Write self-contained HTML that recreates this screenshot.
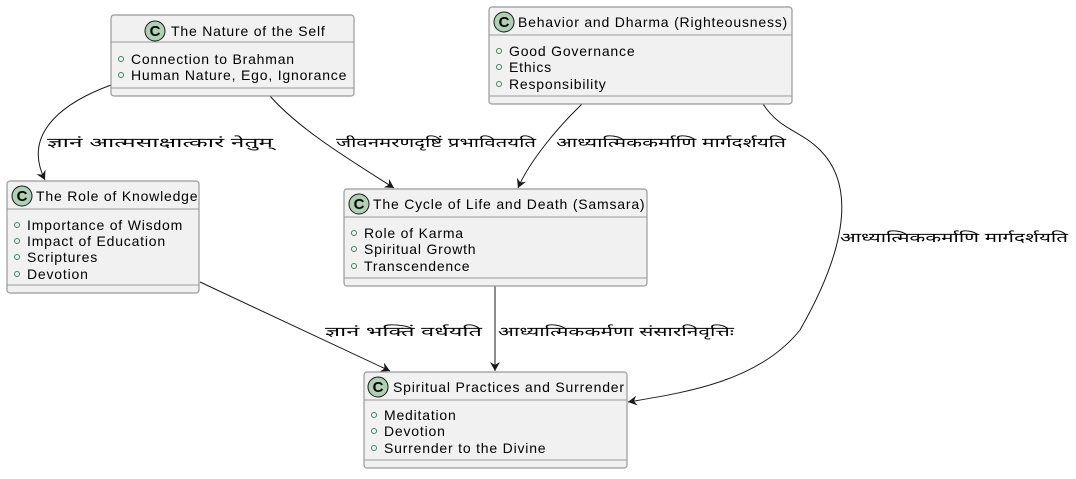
<!DOCTYPE html>
<html><head><meta charset="utf-8"><style>
body{margin:0;background:#fff;}
svg text{font-family:"Liberation Sans",sans-serif;font-size:14px;letter-spacing:0.8px;fill:#000;}
.b{fill:#f1f1f1;stroke:#999;stroke-width:1.2;}
.l{stroke:#999;stroke-width:1;}
.e{fill:none;stroke:#181818;stroke-width:1;}
.ci{fill:#add1b2;stroke:#181818;stroke-width:1;}
svg text.ct{font-weight:bold;font-size:15px;letter-spacing:0;}
.dot{fill:none;stroke:#38865a;stroke-width:1;}
svg text.lab{font-size:13px;letter-spacing:0;}
</style></head><body>
<svg width="1076" height="474" viewBox="0 0 1076 474" xmlns="http://www.w3.org/2000/svg">
<defs><marker id="a" markerWidth="10" markerHeight="10" refX="9" refY="5" orient="auto" markerUnits="userSpaceOnUse"><path d="M0,0 L9,5 L0,10 L3,5 Z" fill="#181818"/></marker></defs>

<path class="e" d="M111,85 C70,100 20,130 45,180" marker-end="url(#a)"/>
<path class="e" d="M270,96 C300,130 350,160 394,188" marker-end="url(#a)"/>
<path class="e" d="M582,104 C560,125 530,160 518,188" marker-end="url(#a)"/>
<path class="e" d="M763,104 C780,130 800,130 820,150 C860,190 840,260 800,330 C760,380 690,392 628,402" marker-end="url(#a)"/>
<path class="e" d="M200,282 L390,371" marker-end="url(#a)"/>
<path class="e" d="M495,286 L495,371" marker-end="url(#a)"/>

<text class="lab" x="47" y="147" textLength="226" lengthAdjust="spacingAndGlyphs">ज्ञानं  आत्मसाक्षात्कारं  नेतुम्</text>
<text class="lab" x="336" y="147" textLength="200" lengthAdjust="spacingAndGlyphs">जीवनमरणदृष्टिं प्रभावितयति</text>
<text class="lab" x="556" y="147" textLength="230" lengthAdjust="spacingAndGlyphs">आध्यात्मिककर्माणि  मार्गदर्शयति</text>
<text class="lab" x="840" y="242" textLength="228" lengthAdjust="spacingAndGlyphs">आध्यात्मिककर्माणि  मार्गदर्शयति</text>
<text class="lab" x="325" y="336" textLength="157" lengthAdjust="spacingAndGlyphs">ज्ञानं  भक्तिं  वर्धयति</text>
<text class="lab" x="498" y="336" textLength="236" lengthAdjust="spacingAndGlyphs">आध्यात्मिककर्मणा  संसारनिवृत्तिः</text>

<rect class="b" x="111" y="15" width="243" height="81" rx="3"/>
<line class="l" x1="111" y1="42" x2="354" y2="42"/><line class="l" x1="111" y1="88" x2="354" y2="88"/>
<circle class="ci" cx="155" cy="31" r="10"/><text class="ct" x="155" y="36" text-anchor="middle">C</text>
<text x="171" y="36">The Nature of the Self</text>
<circle class="dot" cx="121" cy="59" r="2.5"/><text x="131" y="64">Connection to Brahman</text>
<circle class="dot" cx="121" cy="75" r="2.5"/><text x="131" y="80">Human Nature, Ego, Ignorance</text>

<rect class="b" x="489" y="7" width="303" height="97" rx="3"/>
<line class="l" x1="489" y1="35" x2="792" y2="35"/><line class="l" x1="489" y1="96" x2="792" y2="96"/>
<circle class="ci" cx="504" cy="22" r="10"/><text class="ct" x="504" y="27" text-anchor="middle">C</text>
<text x="518" y="27">Behavior and Dharma (Righteousness)</text>
<circle class="dot" cx="499" cy="51" r="2.5"/><text x="509" y="56">Good Governance</text>
<circle class="dot" cx="499" cy="67" r="2.5"/><text x="509" y="72">Ethics</text>
<circle class="dot" cx="499" cy="84" r="2.5"/><text x="509" y="89">Responsibility</text>

<rect class="b" x="7" y="181" width="192" height="112" rx="3"/>
<line class="l" x1="7" y1="209" x2="199" y2="209"/><line class="l" x1="7" y1="285" x2="199" y2="285"/>
<circle class="ci" cx="22" cy="196" r="10"/><text class="ct" x="22" y="201" text-anchor="middle">C</text>
<text x="36" y="201">The Role of Knowledge</text>
<circle class="dot" cx="17" cy="225" r="2.5"/><text x="27" y="230">Importance of Wisdom</text>
<circle class="dot" cx="17" cy="241" r="2.5"/><text x="27" y="246">Impact of Education</text>
<circle class="dot" cx="17" cy="257" r="2.5"/><text x="27" y="262">Scriptures</text>
<circle class="dot" cx="17" cy="274" r="2.5"/><text x="27" y="279">Devotion</text>

<rect class="b" x="344" y="189" width="303" height="97" rx="3"/>
<line class="l" x1="344" y1="217" x2="647" y2="217"/><line class="l" x1="344" y1="278" x2="647" y2="278"/>
<circle class="ci" cx="359" cy="204" r="10"/><text class="ct" x="359" y="209" text-anchor="middle">C</text>
<text x="373" y="209">The Cycle of Life and Death (Samsara)</text>
<circle class="dot" cx="354" cy="233" r="2.5"/><text x="364" y="238">Role of Karma</text>
<circle class="dot" cx="354" cy="249" r="2.5"/><text x="364" y="254">Spiritual Growth</text>
<circle class="dot" cx="354" cy="266" r="2.5"/><text x="364" y="271">Transcendence</text>

<rect class="b" x="364" y="372" width="263" height="96" rx="3"/>
<line class="l" x1="364" y1="400" x2="627" y2="400"/><line class="l" x1="364" y1="460" x2="627" y2="460"/>
<circle class="ci" cx="378" cy="387" r="10"/><text class="ct" x="378" y="392" text-anchor="middle">C</text>
<text x="393" y="392">Spiritual Practices and Surrender</text>
<circle class="dot" cx="374" cy="415" r="2.5"/><text x="384" y="420">Meditation</text>
<circle class="dot" cx="374" cy="431" r="2.5"/><text x="384" y="436">Devotion</text>
<circle class="dot" cx="374" cy="448" r="2.5"/><text x="384" y="453">Surrender to the Divine</text>
</svg>
</body></html>
